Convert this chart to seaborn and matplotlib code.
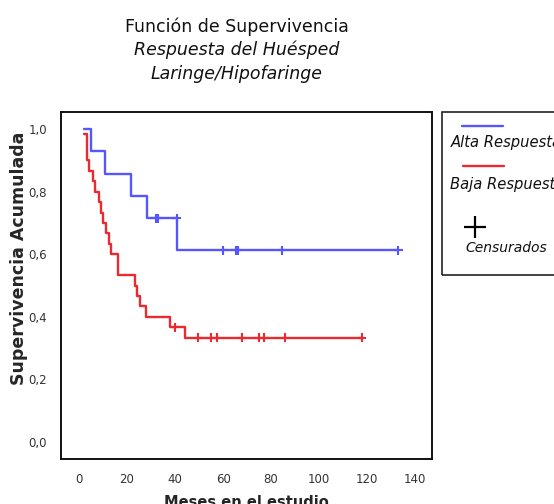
import matplotlib
matplotlib.use("Agg")
import matplotlib.pyplot as plt
from matplotlib.patches import Rectangle
from matplotlib.lines import Line2D
import seaborn as sns
import pandas as pd

# ---- data ----
groups = ["Alta Respuesta", "Baja Respuesta"]
alta_t = [2, 5, 11, 21.5, 28.5, 41, 133]
alta_s = [1.0, 0.929, 0.857, 0.786, 0.714, 0.612, 0.612]
baja_t = [2, 3.2, 4.3, 5.7, 6.7, 8.5, 9.0, 10.1, 11.2, 12.5, 13.5, 16.2,
          23.5, 24.3, 25.4, 27.7, 38, 44, 118]
baja_s = [0.985, 0.90, 0.867, 0.833, 0.80, 0.767, 0.733, 0.70, 0.667, 0.633,
          0.60, 0.533, 0.50, 0.467, 0.433, 0.40, 0.367, 0.333, 0.333]
alta_cens_t = [32, 33, 40.7, 60, 65.3, 66.2, 84.5, 133]
alta_cens_s = [0.714, 0.714, 0.714, 0.612, 0.612, 0.612, 0.612, 0.612]
baja_cens_t = [40, 49.7, 54.8, 57.6, 67.8, 74.8, 77.1, 85.8, 117.8]
baja_cens_s = [0.367, 0.333, 0.333, 0.333, 0.333, 0.333, 0.333, 0.333, 0.333]
x_ticks = [0, 20, 40, 60, 80, 100, 120, 140]
y_ticks = [0.0, 0.2, 0.4, 0.6, 0.8, 1.0]
y_tick_labels = ["0,0", "0,2", "0,4", "0,6", "0,8", "1,0"]

colors = {"Alta Respuesta": "#5656ff", "Baja Respuesta": "#ea2a30"}

curves = pd.DataFrame({
    "t": alta_t + baja_t,
    "S": alta_s + baja_s,
    "grupo": [groups[0]] * len(alta_t) + [groups[1]] * len(baja_t),
})
cens = pd.DataFrame({
    "t": alta_cens_t + baja_cens_t,
    "S": alta_cens_s + baja_cens_s,
    "grupo": [groups[0]] * len(alta_cens_t) + [groups[1]] * len(baja_cens_t),
})

sns.set_style("white")
plt.rcParams["font.family"] = ["DejaVu Sans"]

W, H = 554, 504
fig = plt.figure(figsize=(W / 100, H / 100), dpi=100)

def fx(px):
    return px / W

def fy(py):
    return 1 - py / H

ax_l, ax_r, ax_t, ax_b = 61, 432, 112, 459
ax = fig.add_axes([fx(ax_l), fy(ax_b), (ax_r - ax_l) / W, (ax_b - ax_t) / H])

sns.lineplot(data=curves, x="t", y="S", hue="grupo", palette=colors,
             drawstyle="steps-post", estimator=None, linewidth=1.7,
             legend=False, ax=ax)
sns.scatterplot(data=cens, x="t", y="S", hue="grupo", palette=colors,
                marker="+", s=40, linewidth=1.5, legend=False, ax=ax, zorder=3)

ax.set_xlim(-7.5, 147)
ax.set_ylim(-0.054, 1.054)
ax.set_xticks(x_ticks)
ax.set_xticklabels([str(v) for v in x_ticks])
ax.set_yticks(y_ticks)
ax.set_yticklabels(y_tick_labels)
ax.tick_params(axis="both", direction="out", length=7, width=1.2,
               color="#222222", labelsize=8.5, labelcolor="#333333", pad=3)
for s in ax.spines.values():
    s.set_color("#111111")
    s.set_linewidth(1.4)

ax.set_xlabel("Meses en el estudio", fontsize=10.5, fontweight="bold")
ax.set_ylabel("Supervivencia Acumulada", fontsize=12.5, fontweight="bold")
ax.xaxis.set_label_coords(0.499, -0.126)
ax.xaxis.label.set_va("center")
ax.yaxis.set_label_coords(-0.112, 0.579)
ax.yaxis.label.set_va("center")

# ---- title ----
tx = fx(237)
fig.text(tx, fy(32), "Función de Supervivencia", ha="center", va="baseline",
         fontsize=12.5, color="#111111")
fig.text(tx, fy(55), "Respuesta del Huésped", ha="center", va="baseline",
         fontsize=12.5, style="italic", color="#111111")
fig.text(tx, fy(79), "Laringe/Hipofaringe", ha="center", va="baseline",
         fontsize=12.5, style="italic", color="#111111")

# ---- legend box ----
fig.patches.append(Rectangle((fx(442), fy(275)), (570 - 442) / W, (275 - 112) / H,
                             transform=fig.transFigure, fill=False,
                             edgecolor="#222222", linewidth=1.2, clip_on=False))
fig.lines.append(Line2D([fx(462), fx(503)], [fy(125.5), fy(125.5)],
                        transform=fig.transFigure, color=colors[groups[0]], lw=1.7))
fig.text(fx(451), fy(143), groups[0], ha="left", va="center", fontsize=10.6,
         style="italic", color="#111111")
fig.lines.append(Line2D([fx(463), fx(504)], [fy(166.5), fy(166.5)],
                        transform=fig.transFigure, color=colors[groups[1]], lw=1.7))
fig.text(fx(450), fy(185), groups[1], ha="left", va="center", fontsize=10.6,
         style="italic", color="#111111")
fig.lines.append(Line2D([fx(475)], [fy(226.5)], transform=fig.transFigure,
                        marker="+", markersize=16, markeredgewidth=1.6,
                        color="black", linestyle="none"))
fig.text(fx(465), fy(248), "Censurados", ha="left", va="center", fontsize=10,
         style="italic", color="#111111")

fig.savefig("out.png", dpi=100)
